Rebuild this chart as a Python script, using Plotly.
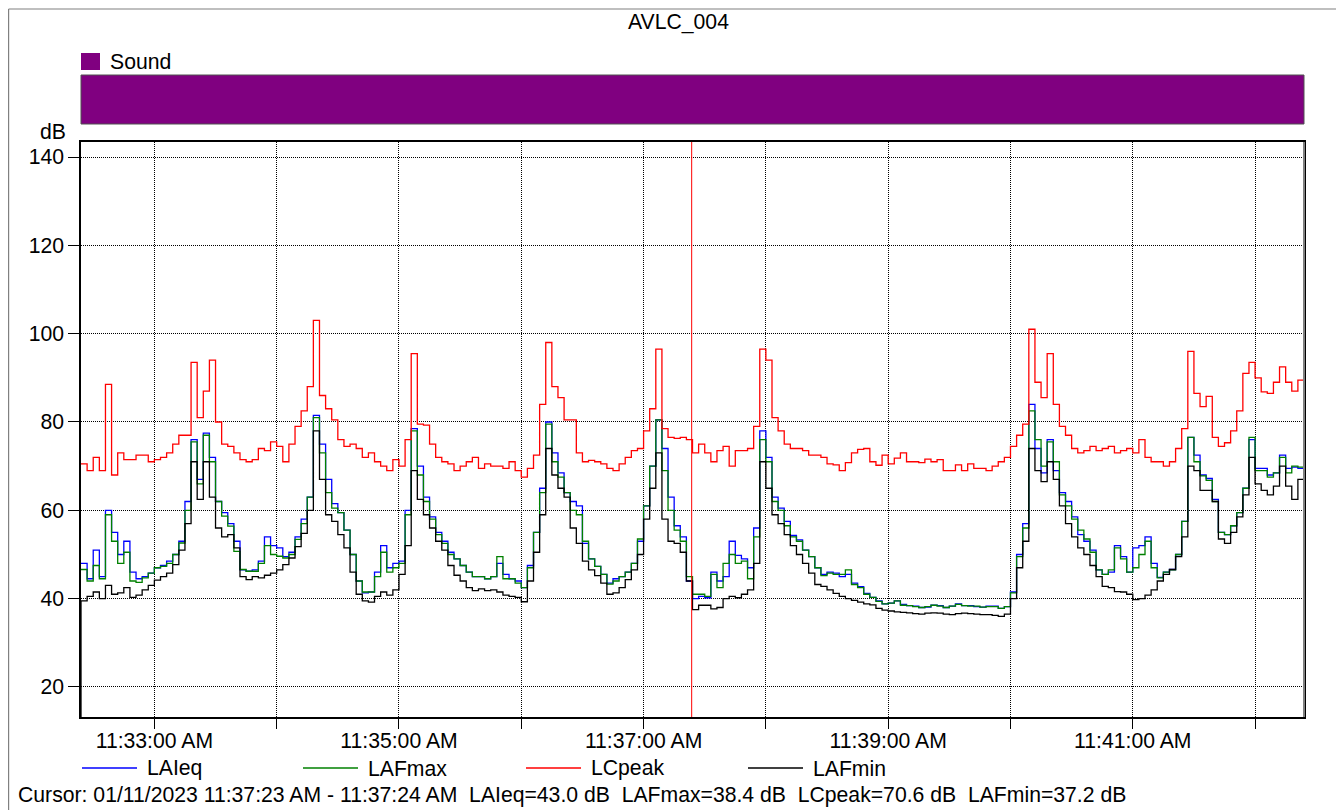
import plotly.graph_objects as go
from datetime import datetime, timedelta

# ---------------- data ----------------
START = datetime(2023, 1, 11, 11, 32, 24)
END = datetime(2023, 1, 11, 11, 42, 24)
STEP_S = 3  # one value every 3 seconds

LAIEQ = [48, 44.5, 51, 45, 60, 55, 50, 53, 46, 44.5, 45, 45.8, 47, 47.5, 48.5, 50, 53, 62, 76, 67,
         77.5, 72, 62, 59.5, 57, 53, 46.5, 46.2, 46.5, 48.5, 54, 52, 51.5, 49.5, 50.5, 54, 58, 63, 81.5, 75,
         67, 61.5, 59.5, 55.5, 50, 44, 41.3, 41.5, 46, 52, 47, 48, 48.5, 60, 78.5, 70, 63, 58.5, 55, 53,
         50.5, 49, 47.5, 46, 45, 45, 44.5, 45, 48, 45.5, 44.5, 44, 42.5, 47.5, 55, 65, 80, 73, 68.5, 64,
         62, 61, 52.5, 49, 47.3, 45.5, 43.5, 44.5, 45, 46, 48, 53, 61, 70, 80.5, 74, 63, 56.5, 54, 44,
         40, 40.5, 40.2, 46, 44, 45, 53, 49.8, 49, 47, 56, 78, 72, 63, 60.5, 57.5, 54.3, 53.3, 51, 49.5,
         47, 45.5, 46, 45.8, 45, 45.5, 43.5, 42.7, 41.2, 40.3, 39.5, 38.8, 39, 39.5, 38.7, 38.4, 38.3, 38, 38.1, 38.5,
         38.4, 38, 38.3, 38.8, 38.4, 38.4, 38.2, 38.1, 38.3, 38.3, 37.8, 38.2, 41.5, 50, 57, 84, 74, 68.5, 76, 69,
         64, 62, 58.5, 54.5, 53, 51, 46.5, 45.5, 46, 52, 49.5, 46, 51.5, 52, 54, 48, 44.8, 46, 46.6, 50,
         57.5, 76.5, 72.5, 68, 67.2, 62.5, 55, 54.5, 56.5, 59.5, 65, 76, 69.5, 69.5, 68, 68.5, 72.5, 69.5, 69.8, 69.5]

LAFMAX = [46.6, 44, 47.5, 44.5, 59, 53, 48, 50.5, 44, 43.7, 44.7, 45.8, 47, 47.3, 48, 50, 52.6, 60, 75.5, 66,
          77, 71, 62, 58.7, 56.4, 50.7, 46.6, 46.2, 46.2, 48, 52, 50, 49.6, 49.2, 50, 53.4, 57, 63, 81, 73,
          64, 60.5, 59.5, 55.5, 50, 44, 41.5, 41.5, 45, 50.5, 46, 47, 48, 59, 78, 68, 62, 58, 54.5, 52.5,
          50, 49, 47.5, 46, 45, 45, 44.5, 45, 49.5, 44.5, 44.5, 43.5, 42.5, 47, 55, 64, 79.5, 71, 67.5, 64,
          60, 59, 53, 49, 47.3, 45.5, 43.3, 44, 45, 46, 48, 53.5, 61, 70, 80.5, 69, 60, 55.5, 53, 45,
          41, 41, 40.5, 45.5, 42.5, 48, 50, 48, 48.5, 44.5, 54, 76, 71, 62, 60, 56.5, 54, 53, 51, 49.5,
          47, 45.2, 45.8, 45.5, 45.5, 46.5, 43.2, 42.5, 41, 40.3, 39.4, 38.8, 39, 39.5, 38.5, 38.4, 38.2, 38, 38.2, 38.5,
          38.3, 38, 38.3, 38.7, 38.4, 38.3, 38.3, 38.1, 38.2, 38.2, 37.8, 38.2, 41.3, 49.5, 56, 82.5, 76, 70, 75.5, 71,
          63.5, 61, 58, 55.5, 53.5, 50.5, 46.5, 45.5, 46.5, 51.5, 49, 46, 47, 50, 53, 47, 44.7, 46, 46.5, 50,
          57.5, 76.5, 71, 67.8, 66.8, 62, 55, 54.5, 56.5, 59.5, 65, 76.5, 69, 69, 67.5, 68.5, 72, 68.5, 70, 69.8]

LCPEAK = [70.5, 69, 72, 69, 88.5, 68, 73, 71.5, 71.5, 72.5, 72.5, 71, 71.5, 72, 73, 75, 77, 77, 93.5, 81,
          87, 94, 80, 75, 74.5, 73, 71.5, 71, 71.5, 74, 73.5, 75.5, 74.5, 71, 75, 79, 82.5, 88, 103, 86,
          83, 80.5, 76, 74.5, 75, 74, 72, 73, 71, 70, 69, 71.5, 70, 76, 95.5, 79.5, 79.3, 75, 72, 71,
          70.5, 69, 70, 71, 72, 69.5, 70.5, 70, 70, 69.5, 71, 69, 67.5, 69.5, 72.5, 84, 98, 88, 85.5, 80.5,
          80.5, 73, 71, 71.3, 71, 70.5, 69.5, 69, 70.5, 72, 73.5, 74, 78, 83, 96.5, 78.5, 76.5, 76.3, 76.5, 76,
          73, 75, 73, 71, 73.5, 74.5, 70, 73.5, 73.5, 74, 79, 96.5, 94, 81, 78, 75, 74, 74, 73.5, 72.5,
          72.5, 72, 70.5, 70.3, 69, 70.8, 73, 73.8, 74, 71, 70.2, 72.5, 70.5, 71.8, 73, 71, 71, 70.8, 71.6, 71,
          71.5, 69, 69, 70.3, 69, 70.5, 69.5, 69.5, 69, 70, 71, 72, 74.5, 77, 79.5, 101, 89, 85.5, 95.5, 84,
          79, 77, 74, 73, 73.5, 74.5, 73.5, 74, 74.5, 73, 73.5, 74, 73, 76, 72, 71, 71, 70, 71, 74,
          78.5, 96, 86.5, 83.5, 85.8, 76.5, 74.5, 75.3, 78, 82.5, 91, 93.5, 90, 86.8, 86.5, 89, 92.5, 89, 87, 89.5]

LAFMIN = [39.5, 40.5, 41.5, 40, 43, 41, 41.3, 42.5, 40.3, 40.8, 42, 43, 44.2, 45, 45.8, 47.7, 51, 57, 71, 62.5,
          71, 63, 56, 54, 54.5, 51.5, 45, 44.3, 45, 44.7, 45.3, 45.8, 46.5, 47.7, 49.2, 51.8, 54.8, 60, 78, 67,
          59, 57.5, 54.5, 51.5, 46, 41, 39.5, 39.2, 40.5, 41.5, 40.8, 42, 45.5, 52, 69, 62.5, 59, 56, 53, 51,
          47.5, 45.3, 44, 42.5, 41.8, 42.2, 41.8, 42, 41.5, 40.8, 40.5, 40.3, 39.3, 44, 50.5, 59, 74, 68, 65, 63,
          56, 52.5, 48.5, 46.5, 45.2, 43.5, 41, 41.3, 42.5, 44.3, 46.5, 50, 58, 65, 73, 58, 53, 52.5, 50.5, 44,
          37.5, 38.5, 38.5, 37.7, 38, 40, 40.5, 40.2, 41, 42, 48, 71, 65, 59, 57, 54.5, 52, 50, 48, 45.8,
          43.2, 42.8, 42, 41.2, 40.5, 40, 39.6, 39.2, 38.8, 38.6, 37.8, 37.4, 37.2, 37, 36.9, 36.8, 36.6, 36.5, 36.7, 36.8,
          36.7, 36.5, 36.4, 36.6, 36.7, 36.6, 36.5, 36.4, 36.4, 36.2, 36, 36.5, 40, 47, 53, 74, 69, 66.5, 71, 67,
          61, 57, 54, 51.5, 50, 47.5, 45, 42.8, 42.5, 41.6, 41.5, 41, 39.8, 40, 40.8, 42, 44, 45.5, 46.6, 49.5,
          54, 70, 69, 64.5, 64.5, 62, 53.5, 52.5, 55, 58.5, 63.5, 72, 66, 64.5, 63.5, 65.5, 70, 65.5, 62.5, 67]
LAFMIN_START = 0.0  # the LAFmin trace starts from below the axis

TICK_TIMES = [datetime(2023, 1, 11, 11, m, 0) for m in range(33, 43)]
TICK_TEXT = ["11:33:00 AM", "", "11:35:00 AM", "", "11:37:00 AM", "",
             "11:39:00 AM", "", "11:41:00 AM", ""]
Y_TICKS = [20, 40, 60, 80, 100, 120, 140]
Y_RANGE = [13.2, 143.4]
CURSOR_TIME = datetime(2023, 1, 11, 11, 37, 23, 600000)

TITLE = "AVLC_004"
BAND_LABEL = "Sound"
CURSOR_TEXT = ("Cursor: 01/11/2023 11:37:23 AM - 11:37:24 AM  LAIeq=43.0 dB  "
               "LAFmax=38.4 dB  LCpeak=70.6 dB  LAFmin=37.2 dB")

SERIES = [("LAIeq", LAIEQ, "#0000FF"),
          ("LAFmax", LAFMAX, "#008000"),
          ("LCpeak", LCPEAK, "#FF0000"),
          ("LAFmin", LAFMIN, "#000000")]

# ---------------- layout geometry (in screenshot pixels) ----------------
PAGE_OFF = 8                     # default body margin of the html page
W, H = 1344 - PAGE_OFF, 810 - PAGE_OFF
L, R, T, B = 81, 1304, 142, 717  # plot area as seen on screen
PW, PH = R - L, B - T
FONT = "Liberation Sans, Arial, sans-serif"
FS = 21.2


def px(p):
    return (p - L) / PW


def py(p):
    return (B - p) / PH


times = [START + timedelta(seconds=STEP_S * i) for i in range(len(LAIEQ))] + [END]

fig = go.Figure()
for name, vals, color in SERIES:
    xs = list(times)
    ys = list(vals) + [vals[-1]]
    if name == "LAFmin":
        xs = [times[0]] + xs
        ys = [LAFMIN_START] + ys
    fig.add_trace(go.Scatter(x=xs, y=ys, mode="lines", name=name,
                             line=dict(color=color, width=1.3, shape="hv"),
                             showlegend=False, hoverinfo="skip"))

shapes = []
annotations = []

# outer frame (top and left)
shapes.append(dict(type="line", xref="paper", yref="paper", x0=px(8.6), x1=px(1350),
                   y0=py(9), y1=py(9), line=dict(color="#808080", width=1.2)))
shapes.append(dict(type="line", xref="paper", yref="paper", x0=px(8.6), x1=px(8.6),
                   y0=py(9), y1=py(815), line=dict(color="#808080", width=1.2)))

# purple "Sound" band
shapes.append(dict(type="rect", xref="paper", yref="paper", x0=0, x1=1,
                   y0=py(124), y1=py(75), fillcolor="#800080",
                   line=dict(color="#505050", width=1)))
shapes.append(dict(type="rect", xref="paper", yref="paper", x0=px(81), x1=px(100),
                   y0=py(70), y1=py(53), fillcolor="#800080", line=dict(width=0)))
annotations.append(dict(text=BAND_LABEL, xref="paper", yref="paper", x=px(108), y=py(62),
                        xanchor="left", yanchor="middle", showarrow=False,
                        font=dict(family=FONT, size=FS, color="black")))

# title
annotations.append(dict(text=TITLE, xref="paper", yref="paper", x=px(678), y=py(22),
                        xanchor="center", yanchor="middle", showarrow=False,
                        font=dict(family=FONT, size=FS, color="black")))

# dB unit label
annotations.append(dict(text="dB", xref="paper", yref="paper", x=px(53), y=py(131),
                        xanchor="center", yanchor="middle", showarrow=False,
                        font=dict(family=FONT, size=FS, color="black")))

# cursor line
shapes.append(dict(type="line", xref="x", yref="paper", x0=CURSOR_TIME, x1=CURSOR_TIME,
                   y0=0, y1=1, line=dict(color="#FF0000", width=1)))

# right plot border (gray)
shapes.append(dict(type="line", xref="paper", yref="paper", x0=1, x1=1, y0=0, y1=1,
                   line=dict(color="#808080", width=2)))

# custom legend
leg_y = py(768)
leg_x = [82, 303, 526, 748]
for (name, vals, color), x0 in zip(SERIES, leg_x):
    shapes.append(dict(type="line", xref="paper", yref="paper", x0=px(x0), x1=px(x0 + 55),
                       y0=leg_y, y1=leg_y, line=dict(color=color, width=1.3)))
    annotations.append(dict(text=name, xref="paper", yref="paper", x=px(x0 + 63), y=leg_y,
                            xanchor="left", yanchor="middle", showarrow=False,
                            font=dict(family=FONT, size=FS, color="black")))

# cursor readout
annotations.append(dict(text=CURSOR_TEXT, xref="paper", yref="paper", x=px(16), y=py(795),
                        xanchor="left", yanchor="middle", showarrow=False,
                        font=dict(family=FONT, size=FS, color="black")))

fig.update_layout(
    width=W, height=H,
    margin=dict(l=L - PAGE_OFF, r=W - (R - PAGE_OFF), t=T - PAGE_OFF, b=H - (B - PAGE_OFF), pad=0),
    paper_bgcolor="white", plot_bgcolor="white",
    showlegend=False,
    shapes=shapes, annotations=annotations,
    font=dict(family=FONT, size=FS, color="black"),
    xaxis=dict(type="date", range=[START, END], tickmode="array",
               tickvals=TICK_TIMES, ticktext=TICK_TEXT,
               ticks="outside", ticklen=10, tickwidth=1, tickcolor="black",
               ticklabelstandoff=-6,
               showgrid=True, gridcolor="black", gridwidth=1, griddash="1px,1px",
               showline=True, linecolor="black", linewidth=1.5, mirror=True,
               zeroline=False, tickfont=dict(family=FONT, size=FS, color="black")),
    yaxis=dict(range=Y_RANGE, tickmode="array", tickvals=Y_TICKS,
               ticks="outside", ticklen=11, tickwidth=1, tickcolor="black",
               showgrid=True, gridcolor="black", gridwidth=1, griddash="1px,1px",
               showline=True, linecolor="black", linewidth=1.5, mirror=True,
               zeroline=False, tickfont=dict(family=FONT, size=FS, color="black")),
)

fig.write_html("out.html")
